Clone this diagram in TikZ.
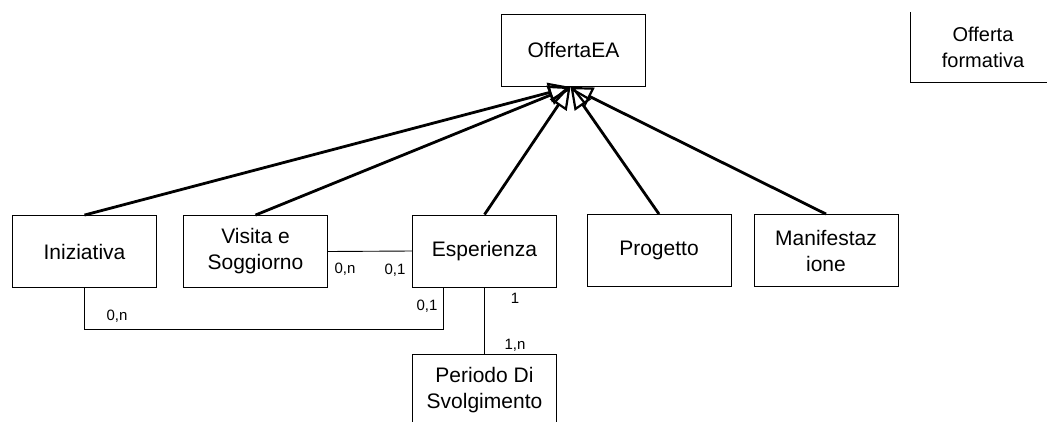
\documentclass[tikz,border=0pt]{standalone}
\usepackage{fontspec}
\setmainfont{Liberation Sans}
\usetikzlibrary{arrows.meta}
\begin{document}
\begin{tikzpicture}[x=1pt,y=-1pt,
  entity/.style={draw, line width=0.9pt, minimum width=144pt, minimum height=72pt,
    inner sep=2pt, align=center, font=\fontsize{21}{26}\selectfont},
  isa/.style={line width=2.8pt, -{Triangle[open, length=22pt, width=20pt, line width=2.2pt]}},
  rel/.style={line width=0.9pt},
  card/.style={font=\fontsize{15}{17}\selectfont, inner sep=1pt}]
  \clip (0,0) rectangle (1047,421);
  \fill[white] (0,0) rectangle (1047,421);

  % entities
  \node[entity] (offerta) at (573.5,50.5) {OffertaEA};
  \node[entity] (iniz) at (84.5,251.5) {Iniziativa};
  \node[entity] (visita) at (255.5,251.5) {Visita e\\Soggiorno};
  \node[entity] (esp) at (484.5,251) {Esperienza};
  \node[entity] (prog) at (659,250.5) {Progetto};
  \node[entity] (manif) at (826,250.5) {Manifestaz\\ione};
  \node[entity] (periodo) at (484.5,390) {Periodo Di\\Svolgimento};

  % diagram title in the corner
  \node[minimum width=144pt, minimum height=70pt, align=center,
    font=\fontsize{20}{26}\selectfont] (legenda) at (983,47) {Offerta\\formativa};
  \draw[rel] (legenda.north west) -- (legenda.south west) -- (legenda.south east);

  % generalisation
  \coordinate (tip) at ([xshift=-3pt]offerta.south);
  \draw[isa] (iniz.north) -- (tip);
  \draw[isa] (visita.north) -- (tip);
  \draw[isa] (esp.north) -- (tip);
  \draw[isa] (prog.north) -- (tip);
  \draw[isa] (manif.north) -- (tip);

  % relationships
  \draw[rel] (visita.east) -- (esp.west);
  \coordinate (loopend) at (443,329);
  \draw[rel] (iniz.south) |- (loopend) -- (loopend |- esp.south);
  \draw[rel] (esp.south) -- (periodo.north);

  % cardinalities
  \node[card] at (345,269) {0,n};
  \node[card] at (395,270) {0,1};
  \node[card] at (427,306) {0,1};
  \node[card] at (117,316) {0,n};
  \node[card] at (515,298) {1};
  \node[card] at (515,345) {1,n};
\end{tikzpicture}
\end{document}
